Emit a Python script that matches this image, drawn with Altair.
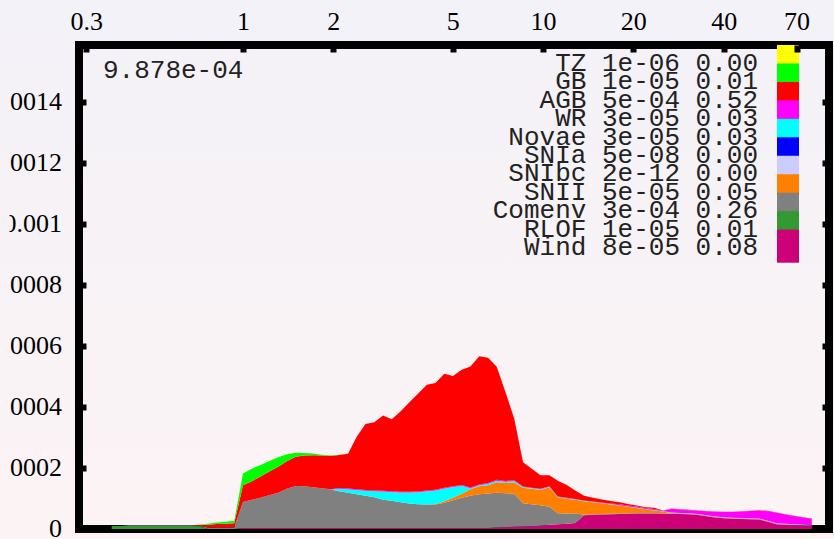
import altair as alt
import pandas as pd

# Initial mass grid (Msun), shared by every channel
mass = [0.365, 0.391, 0.418, 0.447, 0.478, 0.511, 0.546, 0.584, 0.625, 0.668,
        0.715, 0.764, 0.817, 0.874, 0.935, 1.00, 1.07, 1.14, 1.22, 1.31,
        1.40, 1.50, 1.60, 1.71, 1.83, 1.96, 2.09, 2.24, 2.39, 2.56,
        2.74, 2.93, 3.13, 3.35, 3.58, 3.83, 4.10, 4.38, 4.69, 5.01,
        5.36, 5.73, 6.13, 6.56, 7.01, 7.50, 8.02, 8.58, 9.17, 9.81,
        10.5, 11.2, 12.0, 12.8, 13.7, 14.7, 15.7, 16.8, 18.0, 19.2,
        20.5, 22.0, 23.5, 25.1, 26.9, 28.7, 30.7, 32.9, 35.1, 37.6,
        40.2, 43.0, 46.0, 49.2, 52.6, 56.2, 60.1, 64.3, 68.8, 73.6,
        78.7]

# Yield per channel, in units of 1e-5
wind = [0, 0, 0, 0, 0, 0, 0, 0, 0, 0,
        0, 0, 0, 0, 0, 0.3, 0.3, 0.3, 0.3, 0.3,
        0.3, 0.3, 0.3, 0.3, 0.3, 0.3, 0.3, 0.3, 0.3, 0.3,
        0.3, 0.3, 0.3, 0.3, 0.3, 0.3, 0.3, 0.3, 0.3, 0.3,
        0.3, 0.3, 0.3, 0.3, 0.5, 0.6, 0.7, 0.82, 0.92, 1.08,
        1.41, 1.57, 1.74, 2.0, 4.53, 4.66, 4.76, 4.85, 4.95, 5.02,
        5.08, 5.08, 5.08, 5.02, 4.95, 4.92, 4.85, 4.62, 4.2, 3.77,
        3.54, 3.38, 3.28, 3.21, 3.12, 2.39, 1.57, 1.41, 1.25, 1.08,
        0.92]
rlof = [1.0, 1.0, 1.0, 1.0, 1.0, 1.0, 1.0, 1.0, 1.0, 1.0,
        0.9, 0, 0, 0, 0, 0, 0, 0, 0, 0,
        0, 0, 0, 0, 0, 0, 0, 0, 0, 0,
        0, 0, 0, 0, 0, 0, 0, 0, 0, 0,
        0, 0, 0, 0, 0, 0, 0, 0, 0, 0,
        0, 0, 0, 0, 0, 0, 0, 0, 0, 0,
        0, 0, 0, 0, 0, 0, 0, 0, 0, 0,
        0, 0, 0, 0, 0, 0, 0, 0, 0, 0,
        0]
comenv = [0, 0, 0.2, 0.2, 0.2, 0.2, 0.2, 0.2, 0.2, 0.2,
          0.2, 0.5, 0.5, 0.5, 0.5, 8.56, 9.28, 9.94, 10.76, 11.58,
          12.89, 13.81, 13.71, 13.38, 13.05, 12.63, 12.07, 11.58, 11.09, 10.59,
          10.10, 9.28, 8.95, 8.46, 8.04, 7.81, 7.71, 7.71, 8.30, 9.12,
          9.94, 10.59, 11.09, 11.32, 11.35, 11.15, 10.89, 7.64, 7.22, 6.72,
          5.9, 3.61, 3.35, 3.08, 0.16, 0.16, 0.16, 0.16, 0.16, 0.16,
          0.16, 0.16, 0.16, 0.16, 0.16, 0.16, 0.16, 0.16, 0.16, 0.16,
          0.16, 0.16, 0.16, 0.16, 0.16, 0.16, 0.16, 0.16, 0.16, 0.16,
          0.16]
snii = [0, 0, 0, 0, 0, 0, 0, 0, 0, 0,
        0, 0, 0, 0, 0, 0, 0, 0, 0, 0,
        0, 0, 0, 0, 0, 0, 0, 0, 0, 0,
        0, 0, 0, 0, 0, 0, 0, 0.16, 0.49, 0.82,
        1.31, 2.13, 2.62, 2.72, 3.51, 3.38, 3.61, 5.08, 5.08, 4.99,
        6.4, 5.25, 4.85, 4.53, 4.43, 3.97, 3.54, 3.05, 2.56, 2.13,
        1.67, 1.25, 0.85, 0.56, 0.16, 0.07, 0.07, 0.07, 0.07, 0.07,
        0.07, 0.07, 0.07, 0.07, 0.07, 0.07, 0.07, 0.07, 0.07, 0.07,
        0.07]
novae = [0, 0, 0, 0, 0, 0, 0, 0, 0, 0,
         0, 0, 0, 0, 0, 0, 0, 0, 0, 0,
         0, 0, 0, 0, 0, 0, 0.82, 1.15, 1.38, 1.64,
         1.97, 2.69, 2.85, 3.21, 3.61, 3.94, 4.36, 4.43, 4.17, 3.54,
         2.62, 0.33, 0.33, 0.49, 0.49, 0.39, 0.49, 0.26, 0.23, 0.26,
         0.16, 0.16, 0.16, 0.1, 0.1, 0.1, 0.1, 0.1, 0.1, 0.1,
         0.1, 0.1, 0.1, 0.1, 0.1, 0.07, 0.07, 0.07, 0.07, 0.07,
         0.07, 0.07, 0.07, 0.07, 0.07, 0.07, 0.07, 0.07, 0.07, 0.07,
         0.07]
wr = [0, 0, 0, 0, 0, 0, 0, 0, 0, 0,
      0, 0, 0, 0, 0, 0, 0, 0, 0, 0,
      0, 0, 0, 0, 0, 0.1, 0.25, 0.25, 0.25, 0.25,
      0.25, 0.25, 0.25, 0.25, 0.25, 0.25, 0.25, 0.25, 0.25, 0.25,
      0.25, 0.25, 0.25, 0.25, 0.25, 0.25, 0.25, 0.13, 0.1, 0.1,
      0.1, 0.1, 0.1, 0.1, 0.1, 0.13, 0.16, 0.23, 0.3, 0.33,
      0.33, 0.33, 0.39, 0.1, 1.25, 1.18, 1.02, 1.05, 1.31, 1.57,
      1.71, 1.9, 2.16, 2.39, 2.59, 3.15, 3.44, 3.05, 2.72, 2.39,
      2.13]
agb = [0, 0, 0, 0, 0, 0, 0, 0, 0, 0,
       0.2, 0.9, 1.1, 1.25, 1.4, 5.48, 6.07, 6.89, 7.71, 8.53,
       9.02, 9.58, 10.07, 10.5, 10.73, 10.92, 10.82, 11.38, 17.15, 21.65,
       22.4, 24.7, 23.65, 26.3, 29.29, 31.98, 34.67, 35.03, 37.33, 36.08,
       37.79, 39.69, 41.98, 41.0, 37.06, 29.03, 20.17, 7.97, 6.23, 4.49,
       3.67, 5.15, 4.2, 2.79, 1.61, 1.25, 0.95, 0.82, 0.66, 0.46,
       0.33, 0.23, 0.39, 0.1, 0.1, 0.1, 0.1, 0.1, 0.1, 0.1,
       0.1, 0.1, 0.1, 0.1, 0.1, 0.1, 0.1, 0.1, 0.1, 0.1,
       0.1]
gb = [0, 0, 0, 0, 0, 0, 0, 0, 0, 0,
      0.1, 0.33, 0.5, 0.65, 0.8, 3.84, 4.1, 3.77, 3.44, 3.12,
      2.30, 1.31, 0.82, 0.56, 0.26, 0.1, 0.1, 0.1, 0, 0,
      0, 0, 0, 0, 0, 0, 0, 0, 0, 0,
      0, 0, 0, 0, 0, 0, 0, 0, 0, 0,
      0, 0, 0, 0, 0, 0, 0, 0, 0, 0,
      0, 0, 0, 0, 0, 0, 0, 0, 0, 0,
      0, 0, 0, 0, 0, 0, 0, 0, 0, 0,
      0]
tz = [0.0] * len(mass)
snia = [0.0] * len(mass)
snibc = [0.0] * len(mass)

# Channels, top of the key first
channel_names = ["TZ", "GB", "AGB", "WR", "Novae", "SNIa", "SNIbc",
                 "SNII", "Comenv", "RLOF", "Wind"]
channel_colors = ["#ffff00", "#00ff00", "#ff0000", "#ff00ff", "#00ffff",
                  "#0000ff", "#ccccff", "#ff8000", "#808080", "#339933",
                  "#cc0077"]
channel_totals = ["1e-06", "1e-05", "5e-04", "3e-05", "3e-05", "5e-08",
                  "2e-12", "5e-05", "3e-04", "1e-05", "8e-05"]
channel_fractions = ["0.00", "0.01", "0.52", "0.03", "0.03", "0.00",
                     "0.00", "0.05", "0.26", "0.01", "0.08"]
total_label = "9.878e-04"

x_ticks = [0.3, 1, 2, 5, 10, 20, 40, 70]
y_ticks = [0, 0.0002, 0.0004, 0.0006, 0.0008, 0.001, 0.0012, 0.0014]

UNIT = 1e-5
series = {"TZ": tz, "GB": gb, "AGB": agb, "WR": wr, "Novae": novae,
          "SNIa": snia, "SNIbc": snibc, "SNII": snii, "Comenv": comenv,
          "RLOF": rlof, "Wind": wind}

rows = []
for pos, name in enumerate(reversed(channel_names)):  # Wind at the bottom
    for m, v in zip(mass, series[name]):
        rows.append({"mass": m, "rate": v * UNIT, "channel": name, "pos": pos})
df = pd.DataFrame(rows)

key_df = pd.DataFrame({
    "channel": channel_names,
    "label": [f"{n} {t} {f}" for n, t, f in
              zip(channel_names, channel_totals, channel_fractions)],
})

W, H = 750, 484
Y_MAX = 0.001586
X_DOMAIN = [0.284, 89.8]
TICK = dict(grid=False, domain=False, ticks=True, tickSize=7, tickWidth=6,
            tickColor="black", offset=-7, zindex=1, title=None)

paper = alt.LinearGradient(
    gradient="linear", x1=0, x2=0, y1=0, y2=1,
    stops=[alt.GradientStop(color="#f3f2f8", offset=0),
           alt.GradientStop(color="#fcf3f4", offset=1)])
one = pd.DataFrame({"k": [0]})
color_scale = alt.Scale(domain=channel_names, range=channel_colors)
key_scale = alt.Scale(type="point", domain=channel_names,
                      range=[17.7, 202.3], padding=0)

background = alt.Chart(one).mark_rect(fill=paper, strokeWidth=0).encode(
    x=alt.value(-79), x2=alt.value(W + 5), y=alt.value(-45), y2=alt.value(H + 10))

frame = alt.Chart(one).mark_rect(filled=False, color="black", strokeWidth=8,
                                 strokeJoin="miter").encode(
    x=alt.value(0), x2=alt.value(W), y=alt.value(0), y2=alt.value(H))

areas = alt.Chart(df).mark_area(interpolate="linear").encode(
    x=alt.X("mass:Q",
            scale=alt.Scale(type="log", domain=X_DOMAIN, nice=False),
            axis=alt.Axis(orient="top", values=x_ticks, format="~g",
                          labelPadding=11, labelFont="Liberation Serif",
                          labelFontSize=26, labelColor="black",
                          labelFlush=False, labelOverlap=False, **TICK)),
    y=alt.Y("rate:Q", stack="zero",
            scale=alt.Scale(domain=[0, Y_MAX], nice=False),
            axis=alt.Axis(orient="left", values=y_ticks, labels=False, **TICK)),
    color=alt.Color("channel:N", scale=color_scale, legend=None),
    order=alt.Order("pos:Q"),
)

y_labels = alt.Chart(pd.DataFrame({"v": y_ticks})).mark_text(
    align="right", baseline="middle", font="Liberation Serif",
    fontSize=26, color="black").encode(
    y=alt.Y("v:Q", scale=alt.Scale(domain=[0, Y_MAX], nice=False),
            axis=alt.Axis(orient="right", values=y_ticks, labels=False, **TICK)),
    x=alt.value(-17),
    text=alt.Text("v:Q", format="~g"),
)

key_boxes = alt.Chart(key_df).mark_point(
    shape="M-0.611,-0.983H0.611V0.856H-0.611Z", size=1296, filled=True,
    opacity=1, strokeWidth=0).encode(
    x=alt.value(709),
    y=alt.Y("channel:N", scale=key_scale, axis=None),
    color=alt.Color("channel:N", scale=color_scale, legend=None),
)

key_text = alt.Chart(key_df).mark_text(
    align="right", baseline="middle", font="Liberation Mono", fontSize=26,
    color="#222222").encode(
    x=alt.value(679),
    y=alt.Y("channel:N", scale=key_scale, axis=None),
    text="label:N",
)

total = alt.Chart(pd.DataFrame({"t": [total_label]})).mark_text(
    align="left", baseline="middle", font="Liberation Mono", fontSize=26,
    color="#222222").encode(x=alt.value(24), y=alt.value(25), text="t:N")

# Left margin strip that trims the start of the tick labels
margin_strip = alt.Chart(one).mark_rect(fill=paper, strokeWidth=0).encode(
    x=alt.value(-79), x2=alt.value(-69.5), y=alt.value(-45), y2=alt.value(H + 10))

chart = alt.layer(
    background, frame, areas, y_labels, key_boxes, key_text, total, margin_strip
).resolve_scale(y="independent").properties(
    width=W, height=H,
    padding={"left": 79, "top": 45, "right": 5, "bottom": 10},
    autosize=alt.AutoSizeParams(type="none"),
    background="#f7f2f6",
).configure_view(strokeWidth=0)

chart.save("out.html", embed_options={"renderer": "svg", "actions": False})
